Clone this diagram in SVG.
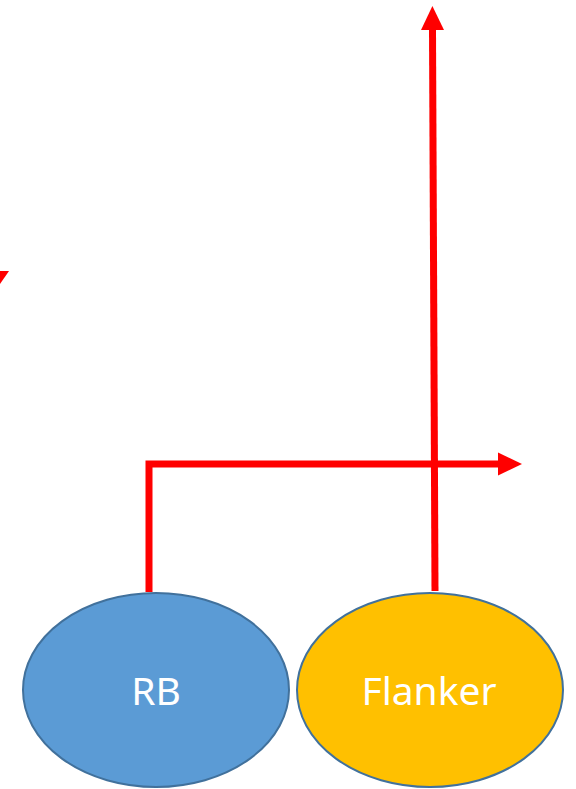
<svg xmlns="http://www.w3.org/2000/svg" width="576" height="789" viewBox="0 0 576 789">
<defs>
<style>
.conn{fill:none;stroke:#FF0000;stroke-width:7;stroke-linejoin:miter;}
.node{stroke:#41719C;stroke-width:2;}
.lbl{font-family:"Noto Sans","Open Sans",sans-serif;font-size:39px;fill:#FFFFFF;text-anchor:middle;}
</style>
<marker id="arr" markerUnits="userSpaceOnUse" markerWidth="24" markerHeight="24" refX="0" refY="11.5" orient="auto" viewBox="0 0 24 23">
<path d="M0,0 L24,11.5 L0,23 Z" fill="#FF0000"/>
</marker>
</defs>
<rect width="576" height="789" fill="#FFFFFF"/>
<g id="connectors">
<polyline class="conn" points="149,592 149,464 498,464" marker-end="url(#arr)"/>
<line class="conn" x1="435" y1="591" x2="432.5" y2="30" marker-end="url(#arr)"/>
<polygon points="0,271 9,271 0,284" fill="#FF0000"/>
</g>
<g id="node-rb">
<ellipse class="node" cx="156" cy="690" rx="133" ry="97" fill="#5B9BD5"/>
<text class="lbl" x="156" y="705">RB</text>
</g>
<g id="node-flanker">
<ellipse class="node" cx="430" cy="690" rx="133" ry="97" fill="#FFC000"/>
<text class="lbl" x="429" y="705">Flanker</text>
</g>
</svg>
